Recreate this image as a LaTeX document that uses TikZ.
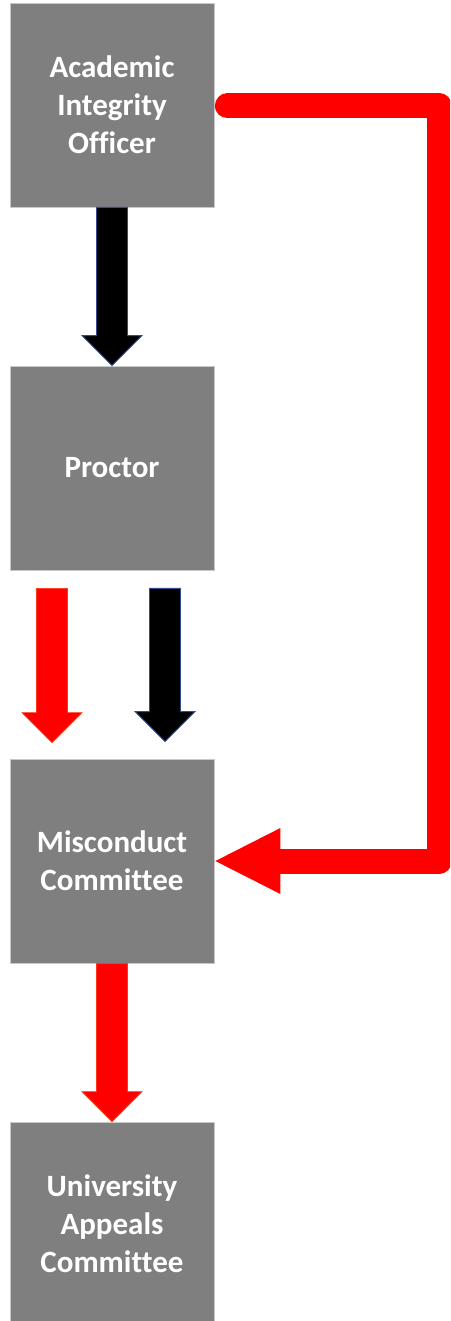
\documentclass[tikz,border=0pt]{standalone}
\usepackage{fontspec}
\setmainfont{Carlito}[Ligatures={NoCommon}]
\usetikzlibrary{calc}
\definecolor{boxgray}{HTML}{7F7F7F}
\definecolor{boxedge}{HTML}{C8C8C8}
\definecolor{arrred}{HTML}{FF0000}
\definecolor{arredge}{HTML}{FF3A10}
\definecolor{navyedge}{HTML}{2F4F8F}
\tikzset{
  box/.style={fill=boxgray, draw=boxedge, line width=0.8pt, minimum width=204pt, minimum height=204pt,
    inner sep=0pt, text=white, align=center, font=\bfseries\fontsize{31}{38}\selectfont},
  blackarrow/.style={fill=black, draw=navyedge, line width=0.9pt, line join=miter},
  redarrow/.style={fill=arrred, draw=arredge, line width=0.6pt, line join=miter},
  redline/.style={draw=arrred, line width=25pt, line cap=round, line join=round},
}
\newcommand\blockarrow[3]{\filldraw[#3] let \p1=(#1), \p2=(#2) in
  (\x1-15.5pt,\y1) -- (\x1-15.5pt,\y2+30pt) -- (\x1-30pt,\y2+30pt) -- (\x1,\y2)
  -- (\x1+30pt,\y2+30pt) -- (\x1+15.5pt,\y2+30pt) -- (\x1+15.5pt,\y1) -- cycle;}
\begin{document}
\begin{tikzpicture}[x=1pt,y=-1pt]
\useasboundingbox (0,0) rectangle (450,1321);
\begin{scope}
\clip (0,0) rectangle (450,1321);
\node[box] (aio) at (112,105) {Academic\\Integrity\\Officer};
\node[box] (pr) at (112,468) {Proctor};
\node[box] (mc) at (112,861) {Misconduct\\Committee};
\node[box] (uac) at (112,1224) {University\\Appeals\\Committee};
\coordinate (rc) at (439,0);
% block arrows
\blockarrow{aio.south}{pr.north}{blackarrow}
\blockarrow{[xshift=-60pt,yshift=-18pt]pr.south}{[xshift=-60pt,yshift=16pt]mc.north}{redarrow}
\blockarrow{[xshift=53pt,yshift=-18pt]pr.south}{[xshift=53pt,yshift=17pt]mc.north}{blackarrow}
\blockarrow{mc.south}{uac.north}{redarrow}
% red elbow connector
\draw[redline] ([xshift=13pt,yshift=-1pt]aio.east) -- ([yshift=-1pt]rc |- aio.east) -- (rc |- mc.east) -- ([xshift=67pt]mc.east);
\fill[arrred] ([xshift=1pt]mc.east) -- ([xshift=66pt,yshift=33pt]mc.east) -- ([xshift=66pt,yshift=-33pt]mc.east) -- cycle;
\end{scope}
\end{tikzpicture}
\end{document}
